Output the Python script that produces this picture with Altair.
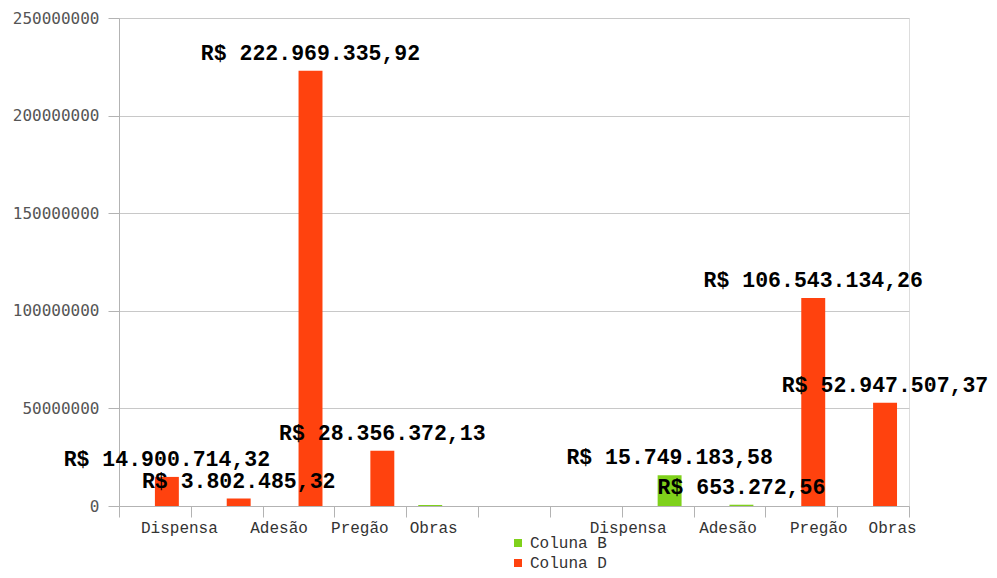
import altair as alt
import pandas as pd

# categories (11 slots along the x axis)
cats = ["c1", "c2", "c3", "c4", "c5", "c6", "c7", "c8", "c9", "c10", "c11"]
cat_labels = ["Dispensa", "", "Adesão", "Pregão", "Obras", "", "", "Dispensa", "Adesão", "Pregão", "Obras"]
label_offsets = [24, 0, -20, -11, -9, 0, 0, -30, -2, 17, 19]

series_names = ["Coluna B", "Coluna D"]
colors = ["#7fd11b", "#ff420e"]

# bar rows: category, series, slot within the category, value, label text
bar_cats = ["c1", "c2", "c3", "c4", "c5", "c8", "c9", "c10", "c11"]
bar_series = ["Coluna D", "Coluna D", "Coluna D", "Coluna D", "Coluna B", "Coluna B", "Coluna B", "Coluna D", "Coluna D"]
bar_slots = ["2", "2", "2", "2", "1", "2", "2", "2", "2"]
bar_values = [14900714.32, 3802485.32, 222969335.92, 28356372.13, 500000, 15749183.58, 653272.56, 106543134.26, 52947507.37]
bar_texts = ["R$ 14.900.714,32", "R$ 3.802.485,32", "R$ 222.969.335,92", "R$ 28.356.372,13", "",
             "R$ 15.749.183,58", "R$ 653.272,56", "R$ 106.543.134,26", "R$ 52.947.507,37"]

y_ticks = [0, 50000000, 100000000, 150000000, 200000000, 250000000]

df = pd.DataFrame({"cat": bar_cats, "serie": bar_series, "slot": bar_slots,
                   "valor": bar_values, "rotulo": bar_texts})

label_expr = "{" + ", ".join(f"'{c}': '{l}'" for c, l in zip(cats, cat_labels)) + "}[datum.value]"
offset_cond = [{"test": f"datum.value === '{c}'", "value": o} for c, o in zip(cats, label_offsets) if o != 0]

x_scale = alt.Scale(domain=cats, paddingInner=0, paddingOuter=0)
x_enc = alt.X(
    "cat:N",
    sort=cats,
    scale=x_scale,
    axis=alt.Axis(
        title=None,
        labelExpr=label_expr,
        labelAngle=0,
        tickBand="extent",
        tickSize=11,
        labelPadding=2,
        labelFont="Liberation Mono",
        labelFontSize=16,
        labelColor="#333333",
        domainColor="#b3b3b3",
        tickColor="#b3b3b3",
        grid=False,
        labelOffset={"condition": offset_cond, "value": 0},
    ),
)
xoff_enc = alt.XOffset(
    "slot:N",
    scale=alt.Scale(domain=["1", "2"], paddingInner=0, paddingOuter=0.5),
)
y_enc = alt.Y(
    "valor:Q",
    scale=alt.Scale(domain=[0, 250000000], nice=False),
    axis=alt.Axis(
        title=None,
        values=y_ticks,
        format="d",
        tickSize=11,
        labelPadding=9,
        labelFont="DejaVu Sans Mono",
        labelFontSize=16,
        labelColor="#555555",
        domainColor="#b3b3b3",
        tickColor="#b3b3b3",
        gridColor="#c8c8c8",
    ),
)

bars = alt.Chart(df).mark_bar().encode(
    x=x_enc,
    xOffset=xoff_enc,
    y=y_enc,
    color=alt.Color(
        "serie:N",
        scale=alt.Scale(domain=series_names, range=colors),
        legend=alt.Legend(
            title=None,
            orient="none",
            legendX=391,
            legendY=517,
            symbolType="square",
            symbolSize=64,
            symbolStrokeWidth=0,
            labelFont="Liberation Mono",
            labelFontSize=16,
            labelColor="#333333",
            rowPadding=4,
            labelOffset=4,
        ),
    ),
)

texts = alt.Chart(df).transform_filter("datum.rotulo != ''").mark_text(
    font="Liberation Mono",
    fontWeight="bold",
    fontSize=21.5,
    dy=-11,
    baseline="alphabetic",
    align="center",
    color="black",
).encode(
    x=alt.X("cat:N", sort=cats, scale=x_scale),
    xOffset=xoff_enc,
    y=alt.Y("valor:Q"),
    text="rotulo:N",
)

chart = alt.layer(bars, texts).properties(
    width=790,
    height=488,
    padding={"left": 111, "top": 10, "right": 80, "bottom": 68},
    autosize=alt.AutoSizeParams(type="none"),
).configure_view(stroke="#b3b3b3").configure(background="white")

chart.save("out.html", embed_options={"renderer": "svg", "actions": False})
